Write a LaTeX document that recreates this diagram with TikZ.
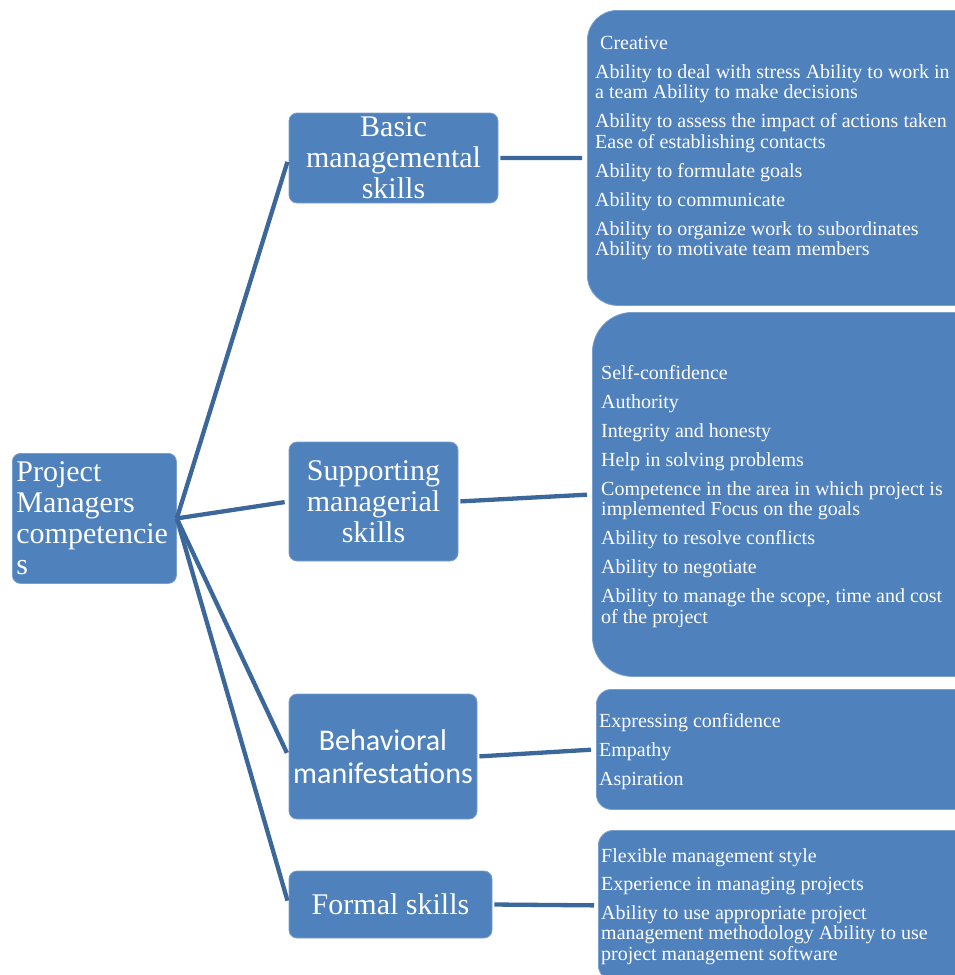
\documentclass[tikz,border=0pt]{standalone}
\usepackage{fontspec}
\setmainfont{Liberation Serif}
\newfontfamily\calibri{Carlito}
\definecolor{boxblue}{RGB}{79,129,189}
\definecolor{lineblue}{RGB}{60,103,155}

\begin{document}
\begin{tikzpicture}[x=1pt,y=-1pt,
  skillbox/.style={fill=boxblue, draw=boxblue!75!white, line width=0.8pt, rounded corners=8pt,
    text=white, inner sep=0pt, align=center, font=\fontsize{30}{31}\selectfont},
  listbox/.style={fill=boxblue, draw=boxblue!75!white, line width=0.8pt, inner sep=0pt,
    anchor=north west, minimum width=420pt},
  listtext/.style={text=white, inner sep=0pt, anchor=north west, align=left,
    font=\fontsize{20}{20.5}\selectfont},
  link/.style={draw=lineblue, line width=4.3pt}]

\useasboundingbox (0,0) rectangle (954,975);

% root
\node[skillbox, anchor=north west, minimum width=164pt, minimum height=130pt,
  inner xsep=4pt, text width=156pt, align=left] (root) at (12,453)
  {Project\\Managers\\competencie\\s};

% middle column
\node[skillbox, minimum width=209pt, minimum height=90pt] (basic) at (393.5,158)
  {Basic\\managemental\\skills};
\node[skillbox, minimum width=169pt, minimum height=119pt] (support) at (373.5,501.5)
  {Supporting\\managerial\\skills};
\node[skillbox, minimum width=188pt, minimum height=125pt,
  font=\calibri\fontsize{30}{33}\selectfont] (behav) at (383,756.5)
  {Behavioral\\manifestations};
\node[skillbox, minimum width=203pt, minimum height=67pt] (formal) at (390.5,904.5)
  {Formal skills};

% lists on the right
\node[listbox, rounded corners=30pt, minimum height=295pt] (basicList) at (587,10) {};
\node[listtext] (basicTxt) at (595,36)
  {\hspace*{5pt}Creative\\[8.5pt]
   Ability to deal with stress Ability to work in\\a team Ability to make decisions\\[8.5pt]
   Ability to assess the impact of actions taken\\Ease of establishing contacts\\[8.5pt]
   Ability to formulate goals\\[8.5pt]
   Ability to communicate\\[8.5pt]
   Ability to organize work to subordinates\\Ability to motivate team members};

\node[listbox, rounded corners=40pt, minimum height=364pt] (supportList) at (592,312) {};
\node[listtext] (supportTxt) at (601,365)
  {Self-confidence\\[8.5pt]
   Authority\\[8.5pt]
   Integrity and honesty\\[8.5pt]
   Help in solving problems\\[8.5pt]
   Competence in the area in which project is\\implemented Focus on the goals\\[8.5pt]
   Ability to resolve conflicts\\[8.5pt]
   Ability to negotiate\\[8.5pt]
   Ability to manage the scope, time and cost\\of the project};

\node[listbox, rounded corners=15pt, minimum height=120pt] (behavList) at (596,689) {};
\node[listtext] (behavTxt) at (599,713)
  {Expressing confidence\\[8.5pt]
   Empathy\\[8.5pt]
   Aspiration};

\node[listbox, rounded corners=15pt, minimum height=150pt] (formalList) at (598,830) {};
\node[listtext] (formalTxt) at (601,848)
  {Flexible management style\\[8pt]
   Experience in managing projects\\[8pt]
   Ability to use appropriate project\\management methodology Ability to use\\project management software};

% root - skills
\draw[link, shorten >=4pt] (root.east) -- (basic.west);
\draw[link, shorten >=4pt] (root.east) -- (support.west);
\draw[link, shorten >=4pt] (root.east) -- (behav.west);
\draw[link, shorten >=4pt] (root.east) -- (formal.west);

% skills - lists
\draw[link, shorten <=2pt, shorten >=5pt] (basic.east) -- (basicList.west);
\draw[link, shorten <=2pt, shorten >=5pt] (support.east) -- (supportList.west);
\draw[link, shorten <=2pt, shorten >=5pt] (behav.east) -- (behavList.west);
\draw[link, shorten <=2pt, shorten >=4pt] (formal.east) -- (formalList.west);

\end{tikzpicture}
\end{document}
